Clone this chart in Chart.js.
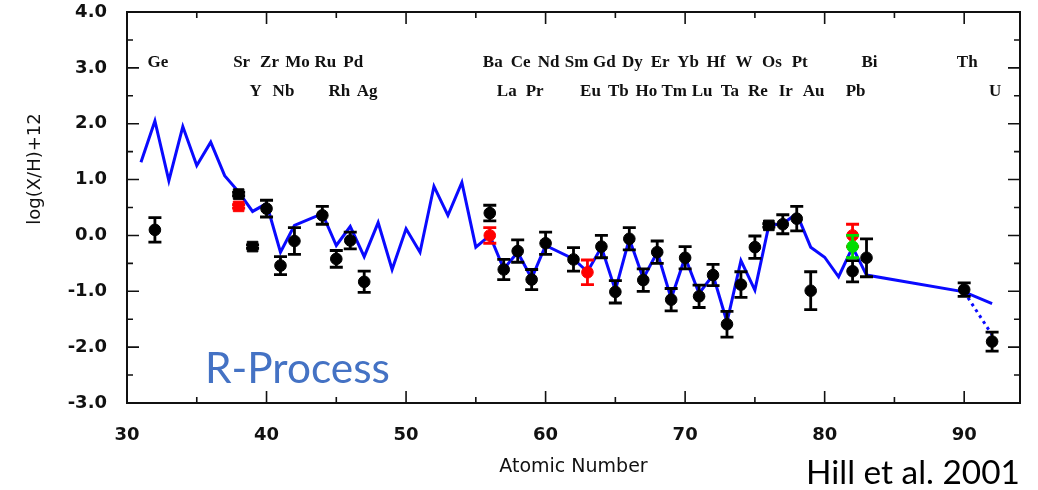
<!DOCTYPE html>
<html><head><meta charset="utf-8">
<script src="https://cdn.jsdelivr.net/npm/chart.js@4.4.0/dist/chart.umd.min.js"></script>
<style>html,body{margin:0;padding:0;background:#fff}#wrap{width:1038px;height:490px;position:relative}</style>
</head><body><div id="wrap"><canvas id="c" width="1038" height="490"></canvas></div>
<script>
// ---- data ----
const modelZ = [31,32,33,34,35,36,37,38,39,40,41,42,44,45,46,47,48,49,50,51,52,53,54,55,56,57,58,59,60,62,63,64,65,66,67,68,69,70,71,72,73,74,75,76,77,78,79,80,81,82,83,90,92];
const modelY = [1.31,2.05,0.98,1.95,1.25,1.67,1.07,0.78,0.43,0.57,-0.30,0.18,0.39,-0.18,0.16,-0.38,0.23,-0.61,0.12,-0.30,0.88,0.36,0.95,-0.21,0.00,-0.60,-0.30,-0.77,-0.18,-0.42,-0.65,-0.21,-0.98,-0.06,-0.77,-0.30,-1.13,-0.39,-1.04,-0.71,-1.55,-0.45,-0.98,0.18,0.21,0.39,-0.21,-0.39,-0.74,-0.21,-0.71,-1.01,-1.22];
const extrapZ = [90,92];
const extrapY = [-1.01,-1.78];

const obsZ   = [32,38,39,40,41,42,44,45,46,47,56,57,58,59,60,62,64,65,66,67,68,69,70,71,72,73,74,75,76,77,78,79,82,83,90,92];
const obsY   = [0.10,0.74,-0.20,0.48,-0.54,-0.10,0.36,-0.42,-0.09,-0.83,0.40,-0.61,-0.28,-0.79,-0.14,-0.43,-0.20,-1.01,-0.06,-0.80,-0.30,-1.15,-0.40,-1.09,-0.71,-1.59,-0.88,-0.21,0.18,0.20,0.30,-0.99,-0.64,-0.40,-0.97,-1.90];
const obsErr = [0.22,0.03,0.03,0.15,0.16,0.24,0.16,0.15,0.15,0.19,0.14,0.18,0.20,0.18,0.20,0.21,0.20,0.20,0.20,0.20,0.20,0.20,0.20,0.20,0.19,0.23,0.23,0.20,0.03,0.17,0.22,0.34,0.19,0.34,0.12,0.17];
const squareZ = [38,39,76];

const redZ   = [38,56,63,82];
const redY   = [0.52,0.00,-0.66,0.00];
const redErr = [0.03,0.14,0.22,0.20];

const greenZ   = [82];
const greenY   = [-0.20];
const greenErr = [0.20];

const xTicks = [30,40,50,60,70,80,90];
const yTicks = [-3,-2,-1,0,1,2,3,4];

const elemTop  = ['Ge','Sr','Zr','Mo','Ru','Pd','Ba','Ce','Nd','Sm','Gd','Dy','Er','Yb','Hf','W','Os','Pt','Bi','Th'];
const elemTopZ = [32,38,40,42,44,46,56,58,60,62,64,66,68,70,72,74,76,78,83,90];
const elemBot  = ['Y','Nb','Rh','Ag','La','Pr','Eu','Tb','Ho','Tm','Lu','Ta','Re','Ir','Au','Pb','U'];
const elemBotZ = [39,41,45,47,57,59,63,65,67,69,71,73,75,77,79,82,92];

// ---- helpers ----
const pts = (xs, ys) => xs.map((x, i) => ({x: x, y: ys[i]}));

const errPlugin = {
  id: 'errbars',
  beforeDatasetDraw(chart, args) {
    const ds = chart.data.datasets[args.index];
    if (!ds.errors) return;
    const ctx = chart.ctx, xs = chart.scales.x, ys = chart.scales.y;
    ctx.save();
    ctx.strokeStyle = ds.errColor;
    ctx.lineWidth = 2.8;
    ds.data.forEach((p, i) => {
      const e = ds.errors[i];
      if (!e) return;
      const x = xs.getPixelForValue(p.x);
      const y1 = ys.getPixelForValue(p.y + e), y2 = ys.getPixelForValue(p.y - e);
      ctx.beginPath();
      ctx.moveTo(x, y1); ctx.lineTo(x, y2);
      ctx.moveTo(x - 6.5, y1); ctx.lineTo(x + 6.5, y1);
      ctx.moveTo(x - 6.5, y2); ctx.lineTo(x + 6.5, y2);
      ctx.stroke();
    });
    ctx.restore();
  }
};

const framePlugin = {
  id: 'frame',
  afterDatasetsDraw(chart) {
    const ctx = chart.ctx, a = chart.chartArea, xs = chart.scales.x, ys = chart.scales.y;
    ctx.save();
    ctx.strokeStyle = '#111';
    ctx.lineWidth = 2;
    ctx.strokeRect(a.left, a.top, a.right - a.left, a.bottom - a.top);
    ctx.lineWidth = 1.6;
    ctx.beginPath();
    xTicks.forEach((v, i) => {
      const x = xs.getPixelForValue(v);
      ctx.moveTo(x, a.bottom); ctx.lineTo(x, a.bottom - 12);
      ctx.moveTo(x, a.top); ctx.lineTo(x, a.top + 12);
      if (i < xTicks.length - 1) {
        const xm = xs.getPixelForValue((v + xTicks[i + 1]) / 2);
        ctx.moveTo(xm, a.bottom); ctx.lineTo(xm, a.bottom - 6);
        ctx.moveTo(xm, a.top); ctx.lineTo(xm, a.top + 6);
      }
    });
    yTicks.forEach((v, i) => {
      const y = ys.getPixelForValue(v);
      ctx.moveTo(a.left, y); ctx.lineTo(a.left + 12, y);
      ctx.moveTo(a.right, y); ctx.lineTo(a.right - 12, y);
      if (i < yTicks.length - 1) {
        const ym = ys.getPixelForValue((v + yTicks[i + 1]) / 2);
        ctx.moveTo(a.left, ym); ctx.lineTo(a.left + 6, ym);
        ctx.moveTo(a.right, ym); ctx.lineTo(a.right - 6, ym);
      }
    });
    ctx.stroke();
    ctx.restore();
  },
  afterDraw(chart) {
    const ctx = chart.ctx, xs = chart.scales.x;
    ctx.save();
    ctx.fillStyle = '#111';
    ctx.font = '18px "DejaVu Sans"';
    ctx.textAlign = 'center';
    ctx.textBaseline = 'middle';
    ctx.translate(35, 169);
    ctx.rotate(-Math.PI / 2);
    ctx.fillText('log(X/H)+12', 0, 0);
    ctx.restore();

    ctx.save();
    ctx.fillStyle = '#111';
    ctx.font = 'bold 17px "Liberation Serif"';
    ctx.textAlign = 'center';
    ctx.textBaseline = 'middle';
    elemTop.forEach((t, i) => ctx.fillText(t, xs.getPixelForValue(elemTopZ[i]) + 3, 63));
    elemBot.forEach((t, i) => ctx.fillText(t, xs.getPixelForValue(elemBotZ[i]) + 3, 92));
    ctx.restore();

    const fit = (text, w, fam) => {
      ctx.font = '100px ' + fam;
      return 100 * w / ctx.measureText(text).width;
    };
    ctx.save();
    ctx.textAlign = 'left';
    ctx.textBaseline = 'alphabetic';
    let s = fit('R-Process', 185, 'Lato');
    ctx.font = s.toFixed(1) + 'px Lato';
    ctx.fillStyle = '#4472C4';
    ctx.fillText('R-Process', 205, 383);
    s = fit('Hill et al. 2001', 214, 'Lato');
    ctx.font = s.toFixed(1) + 'px Lato';
    ctx.fillStyle = '#000';
    ctx.fillText('Hill et al. 2001', 806, 484);
    ctx.restore();
  }
};

const tickFont = {family: 'DejaVu Sans', weight: 'bold', size: 18};

new Chart(document.getElementById('c'), {
  type: 'scatter',
  data: {
    datasets: [
      {label: 'model', data: pts(modelZ, modelY), showLine: true, borderColor: '#0a0aff', borderWidth: 3, pointRadius: 0, fill: false, tension: 0, order: 10},
      {label: 'extrapolation', data: pts(extrapZ, extrapY), showLine: true, borderColor: '#0a0aff', borderWidth: 3, borderDash: [3, 4], pointRadius: 0, fill: false, order: 9},
      {label: 'observed', data: pts(obsZ, obsY), errors: obsErr, errColor: '#000', backgroundColor: '#000', borderColor: '#000',
        pointStyle: obsZ.map(z => squareZ.includes(z) ? 'rect' : 'circle'),
        pointRadius: obsZ.map(z => squareZ.includes(z) ? 7.5 : 5.8), order: 3},
      {label: 'red', data: pts(redZ, redY), errors: redErr, errColor: '#ff0000', backgroundColor: '#ff0000', borderColor: '#ff0000',
        pointStyle: redZ.map(z => z === 38 ? 'rect' : 'circle'), pointRadius: redZ.map(z => z === 38 ? 7.5 : 5.8), order: 2},
      {label: 'green', data: pts(greenZ, greenY), errors: greenErr, errColor: '#00dd00', backgroundColor: '#00dd00', borderColor: '#00dd00', pointRadius: 5.8, order: 1}
    ]
  },
  options: {
    responsive: false,
    animation: false,
    devicePixelRatio: 1,
    layout: {padding: {top: 12, right: 18, left: 0, bottom: 0}},
    plugins: {legend: {display: false}, tooltip: {enabled: false}},
    scales: {
      x: {
        type: 'linear', min: 30, max: 94,
        afterBuildTicks: s => { s.ticks = xTicks.map(v => ({value: v})); },
        afterFit: s => { s.height = 87; s.paddingLeft = 0; s.paddingRight = 0; },
        grid: {display: false, drawTicks: false},
        border: {display: false},
        ticks: {font: tickFont, color: '#111', padding: 22, maxRotation: 0, callback: v => String(v)},
        title: {display: true, text: 'Atomic Number', font: {family: 'DejaVu Sans', size: 19}, color: '#111', padding: {top: 0, bottom: 12}}
      },
      y: {
        type: 'linear', min: -3, max: 4,
        afterBuildTicks: s => { s.ticks = yTicks.map(v => ({value: v})); },
        afterFit: s => { s.width = 127; s.paddingTop = 0; s.paddingBottom = 0; },
        grid: {display: false, drawTicks: false},
        border: {display: false},
        ticks: {font: tickFont, color: '#111', padding: 20, callback: v => Number(v).toFixed(1)}
      }
    }
  },
  plugins: [errPlugin, framePlugin]
});
</script>
</body></html>
